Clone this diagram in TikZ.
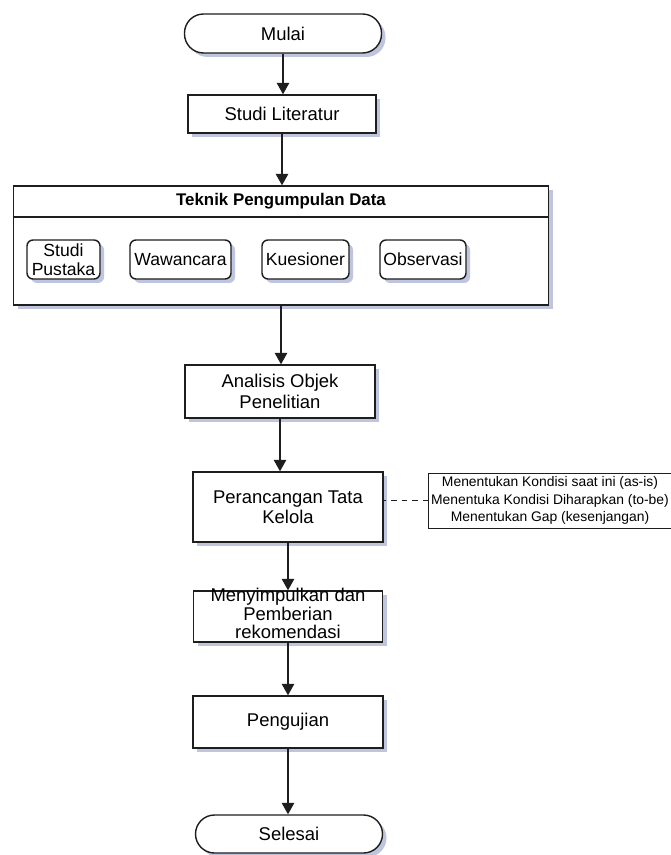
\documentclass[tikz,border=0pt]{standalone}
\usepackage{fontspec}
\setmainfont{Liberation Sans}
\usepackage{tikz}
\usetikzlibrary{positioning, arrows.meta, shadows}
\definecolor{garis}{RGB}{30,30,30}
\definecolor{bayang}{RGB}{140,150,195}
\tikzset{kotak/.style = {draw=garis,line width=0.8pt,fill=white,align=center,inner sep=1mm,
                         font=\fontsize{10.5}{11.5}\selectfont,
                         drop shadow={shadow xshift=0.8mm,shadow yshift=-0.8mm,fill=bayang,opacity=0.55}},
         terminal/.style = {kotak,rounded corners=0.38cm,minimum height=0.78cm},
         sub/.style = {kotak,rounded corners=1.2mm,minimum height=0.78cm,inner sep=0.5mm,
                       font=\fontsize{10}{11}\selectfont},
         panah/.style = {draw=garis,line width=0.8pt,-{Triangle[length=2.3mm,width=2.5mm]}}}

\begin{document}
\begin{tikzpicture}
                    \useasboundingbox (0,0) rectangle (13.4,-17.1);
                    \node[terminal,minimum width=3.94cm] (mulai) at (5.66,-0.67) {Mulai};
                    \node[kotak,minimum width=3.76cm,minimum height=0.76cm] (studi) at (5.64,-2.28) {Studi Literatur};
                    \node[kotak,minimum width=10.7cm,minimum height=2.38cm] (data) at (5.62,-4.91) {};
                    \node[draw=garis,line width=0.8pt,minimum width=10.7cm,minimum height=0.62cm,
                          font=\fontsize{9.6}{11}\selectfont\bfseries] (judul) at (5.62,-4.03) {Teknik Pengumpulan Data};
                    \foreach \nama/\x/\w/\teks in {pustaka/1.27/1.46/{Studi\\Pustaka},
                                                  wawancara/3.61/2.02/{Wawancara},
                                                  kuesioner/6.11/1.74/{Kuesioner},
                                                  observasi/8.46/1.72/{Observasi}}
                        \node[sub,minimum width=\w cm] (\nama) at (\x,-5.19) {\teks};
                    \node[kotak,minimum width=3.8cm,minimum height=1.06cm] (analisis) at (5.6,-7.83) {Analisis Objek\\Penelitian};
                    \node[kotak,minimum width=3.8cm,minimum height=1.4cm] (rancang) at (5.76,-10.14) {Perancangan Tata\\Kelola};
                    \node[draw=garis,line width=0.5pt,fill=white,align=center,inner sep=0.5mm,
                          minimum width=4.72cm,minimum height=1.1cm,font=\fontsize{7.9}{9.8}\selectfont] (catatan) at (11.0,-10.01)
                          {Menentukan Kondisi saat ini (as-is)\\Menentuka Kondisi Diharapkan (to-be)\\Menentukan Gap (kesenjangan)};
                    \node[kotak,minimum width=3.78cm,minimum height=1.02cm,inner ysep=0pt,
                          font=\fontsize{10.5}{10.5}\selectfont] (simpul) at (5.76,-12.33) {\\[-6pt]Menyimpulkan dan\\Pemberian\\rekomendasi};
                    \node[kotak,minimum width=3.8cm,minimum height=1.04cm] (uji) at (5.76,-14.44) {Pengujian};
                    \node[terminal,minimum width=3.74cm,minimum height=0.76cm] (selesai) at (5.78,-16.68) {Selesai};
                    \foreach \a/\b in {mulai/studi,studi/judul,data/analisis,analisis/rancang,
                                       rancang/simpul,simpul/uji,uji/selesai}
                        \draw[panah] (\a) -- (\a |- \b.north);
                    \draw[draw=garis,line width=0.5pt,dashed] (catatan.west) -- (catatan.west -| rancang.east);
                \end{tikzpicture}
\end{document}
